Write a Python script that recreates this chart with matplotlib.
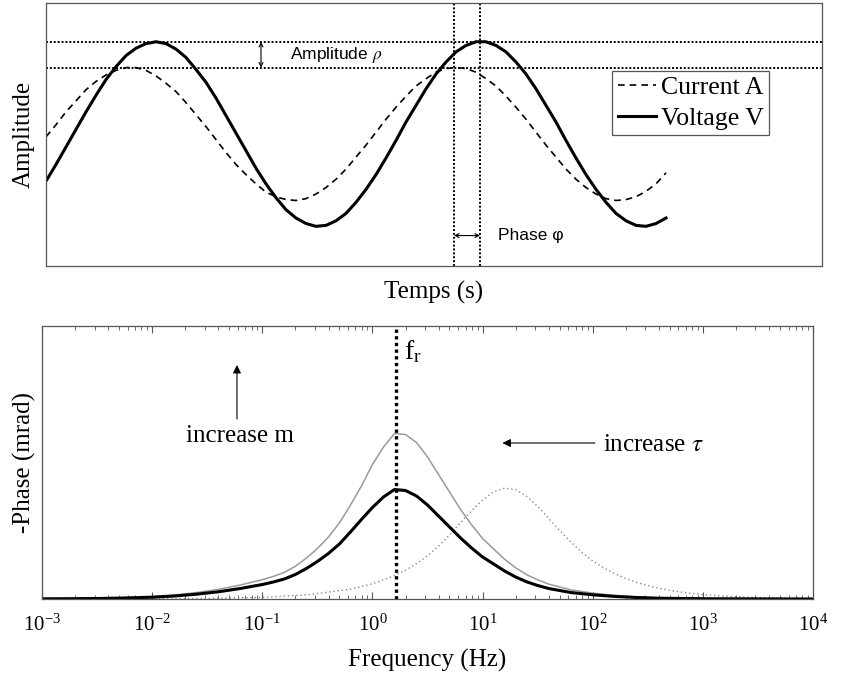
import numpy as np
import matplotlib
matplotlib.use("Agg")
from matplotlib import pyplot as plt

plt.rcParams['font.family'] = 'serif'
plt.rcParams['font.serif'] = ['Liberation Serif', 'DejaVu Serif']
plt.rcParams['mathtext.fontset'] = 'stix'

# ---- top panel: signals (time in arbitrary units) ----
t = np.linspace(0, 6.2, 63)
voltage = [-0.51, -0.33, -0.14, 0.05, 0.24, 0.42, 0.59, 0.73, 0.85, 0.93,
           0.98, 1.00, 0.98, 0.92, 0.83, 0.70, 0.56, 0.39, 0.20, 0.01,
           -0.18, -0.37, -0.54, -0.69, -0.82, -0.91, -0.97, -1.00, -0.99, -0.94,
           -0.86, -0.74, -0.60, -0.44, -0.26, -0.07, 0.13, 0.31, 0.49, 0.65,
           0.78, 0.89, 0.96, 1.00, 1.00, 0.96, 0.89, 0.78, 0.65, 0.49,
           0.31, 0.13, -0.07, -0.26, -0.44, -0.60, -0.74, -0.86, -0.94, -0.99,
           -1.00, -0.97, -0.91]
current = [-0.03, 0.10, 0.24, 0.36, 0.48, 0.57, 0.64, 0.69, 0.72, 0.72,
           0.69, 0.63, 0.55, 0.46, 0.34, 0.21, 0.08, -0.06, -0.20, -0.33,
           -0.44, -0.54, -0.63, -0.68, -0.71, -0.72, -0.70, -0.65, -0.58, -0.49,
           -0.38, -0.25, -0.12, 0.02, 0.16, 0.29, 0.41, 0.52, 0.60, 0.67,
           0.71, 0.72, 0.71, 0.67, 0.60, 0.52, 0.41, 0.29, 0.16, 0.02,
           -0.12, -0.25, -0.38, -0.49, -0.58, -0.65, -0.70, -0.72, -0.71, -0.68,
           -0.62, -0.54, -0.42]
amp_levels = [1.0, 0.72]        # peak of V and of A
phase_marks = [4.08, 4.34]      # peaks of A and V

# ---- bottom panel: -phase spectra (mrad, arbitrary scale) ----
logf = [-3.0, -2.75, -2.5, -2.25, -2.0, -1.8, -1.6, -1.4, -1.2,
        -1.0, -0.9, -0.8, -0.7, -0.6, -0.5, -0.4, -0.3, -0.2, -0.1,
        0.0, 0.1, 0.2, 0.3, 0.4, 0.5, 0.6, 0.7, 0.8, 0.9,
        1.0, 1.1, 1.2, 1.3, 1.4, 1.5, 1.6,
        1.8, 2.0, 2.2, 2.4, 2.6, 2.8, 3.0, 3.5, 4.0]
phase_ref = [0.02, 0.03, 0.05, 0.10, 0.18, 0.30, 0.48, 0.72, 1.05,
             1.45, 1.70, 2.00, 2.45, 3.05, 3.75, 4.55, 5.50, 6.70, 7.95,
             9.15, 10.20, 10.95, 10.85, 10.30, 9.40, 8.30, 7.20, 6.10, 5.10,
             4.20, 3.50, 2.80, 2.20, 1.72, 1.35, 1.05,
             0.65, 0.42, 0.26, 0.15, 0.08, 0.05, 0.03, 0.01, 0.0]
phase_m = [0.03, 0.04, 0.07, 0.13, 0.24, 0.40, 0.64, 0.96, 1.40,
           1.93, 2.26, 2.66, 3.27, 4.09, 5.05, 6.19, 7.60, 9.38, 11.30,
           13.45, 15.20, 16.55, 16.45, 15.65, 14.20, 12.45, 10.70, 8.95, 7.42,
           6.05, 5.00, 3.98, 3.12, 2.44, 1.92, 1.49,
           0.92, 0.59, 0.36, 0.21, 0.11, 0.07, 0.04, 0.01, 0.0]
logf_tau = [-3.0, -2.5, -2.0, -1.5, -1.0, -0.6, -0.2, 0.0,
            0.2, 0.3, 0.4, 0.5, 0.6, 0.7, 0.8, 0.9, 1.0, 1.1,
            1.2, 1.3, 1.4, 1.5, 1.6, 1.7, 1.8, 1.9, 2.0, 2.1,
            2.2, 2.3, 2.4, 2.6, 2.8, 3.0, 3.25, 3.5, 4.0]
phase_tau = [0.0, 0.01, 0.02, 0.06, 0.17, 0.41, 0.98, 1.52,
             2.33, 2.88, 3.53, 4.32, 5.28, 6.41, 7.65, 8.83, 9.90, 10.72,
             11.09, 10.93, 10.27, 9.27, 8.07, 6.86, 5.72, 4.68, 3.81, 3.11,
             2.53, 2.05, 1.65, 1.06, 0.69, 0.44, 0.26, 0.15, 0.05]
f_r = 1.64

freq = 10 ** np.array(logf)
freq_tau = 10 ** np.array(logf_tau)

fig = plt.figure(figsize=(8.47, 6.81), dpi=100)
frame_col = '#555555'

# --- Top panel ---
ax1 = fig.add_axes([0.0543, 0.6094, 0.9162, 0.3862])
ax1.plot(t, current, color='black', lw=1.2, ls=(0, (4, 3)), label='Current A')
ax1.plot(t, voltage, color='black', lw=2.2, label='Voltage V')
for lev in amp_levels:
    ax1.axhline(lev, color='black', lw=1.4, ls=(0, (1, 1)))
for pm in phase_marks:
    ax1.axvline(pm, color='black', lw=1.4, ls=(0, (1, 1)))
ax1.set_xlim(0, 7.76)
ax1.set_ylim(-1.43, 1.42)
ax1.set_xticks([])
ax1.set_yticks([])
for s in ax1.spines.values():
    s.set_color(frame_col)
    s.set_linewidth(0.9)
ax1.set_ylabel('Amplitude', fontsize=18, labelpad=8)
ax1.set_xlabel('Temps (s)', fontsize=18, labelpad=11)

ax1.annotate('', xy=(2.15, 1.0), xytext=(2.15, 0.72),
             arrowprops=dict(arrowstyle='<->', lw=0.8, color='black',
                             mutation_scale=7, shrinkA=0, shrinkB=0))
ax1.text(2.44, 0.86, r'Amplitude $\rho$', family='Liberation Sans',
         fontsize=12.5, va='center', ha='left')
ax1.annotate('', xy=(phase_marks[0], -1.10), xytext=(phase_marks[1], -1.10),
             arrowprops=dict(arrowstyle='<->', lw=0.8, color='black',
                             mutation_scale=7, shrinkA=0, shrinkB=0))
ax1.text(4.52, -1.10, 'Phase φ', family='Liberation Sans',
         fontsize=12.5, va='center', ha='left')

leg = ax1.legend(loc='upper right', bbox_to_anchor=(0.932, 0.742),
                 fontsize=18.5, handlelength=1.5, handletextpad=0.2,
                 borderpad=0.2, labelspacing=0.3, borderaxespad=0,
                 fancybox=False, framealpha=1)
leg.get_frame().set_edgecolor(frame_col)
leg.get_frame().set_linewidth(0.9)

# --- Bottom panel ---
ax2 = fig.add_axes([0.0496, 0.1204, 0.9103, 0.4009])
ax2.plot(freq_tau, phase_tau, color='#8a8a8a', lw=1.0, ls=(0, (1, 2)))
ax2.plot(freq, phase_m, color='#9a9a9a', lw=1.1)
ax2.plot(freq, phase_ref, color='black', lw=2.2)
ax2.axvline(f_r, color='black', lw=2.4, ls=(0, (1, 1)))
ax2.set_xscale('log')
ax2.set_xlim(1e-3, 1e4)
ax2.set_ylim(0, 27.3)
ax2.set_yticks([])
ax2.set_xticks(10.0 ** np.arange(-3, 5))
ax2.tick_params(axis='x', which='both', direction='in', top=True,
                labelsize=15, pad=11, color=frame_col)
ax2.tick_params(axis='x', which='major', length=5)
ax2.tick_params(axis='x', which='minor', length=3)
for s in ax2.spines.values():
    s.set_color(frame_col)
    s.set_linewidth(0.9)
ax2.set_ylabel('-Phase (mrad)', fontsize=18, labelpad=4)
ax2.set_xlabel('Frequency (Hz)', fontsize=18, labelpad=10)

ax2.text(1.95, 24.7, r'$\mathregular{f_r}$', fontsize=20, va='center', ha='left')
ax2.annotate('', xy=(10 ** -1.23, 23.4), xytext=(10 ** -1.23, 18.0),
             arrowprops=dict(arrowstyle='-|>', lw=0.8, color='black',
                             mutation_scale=12, shrinkA=0, shrinkB=0))
ax2.text(10 ** -1.2, 16.3, 'increase m', fontsize=18, ha='center', va='center')
ax2.annotate('', xy=(10 ** 1.18, 15.6), xytext=(10 ** 2.02, 15.6),
             arrowprops=dict(arrowstyle='-|>', lw=0.8, color='black',
                             mutation_scale=12, shrinkA=0, shrinkB=0))
ax2.text(10 ** 2.09, 15.4, r'increase $\tau$', fontsize=18, ha='left', va='center')

plt.savefig('out.png', dpi=100)
